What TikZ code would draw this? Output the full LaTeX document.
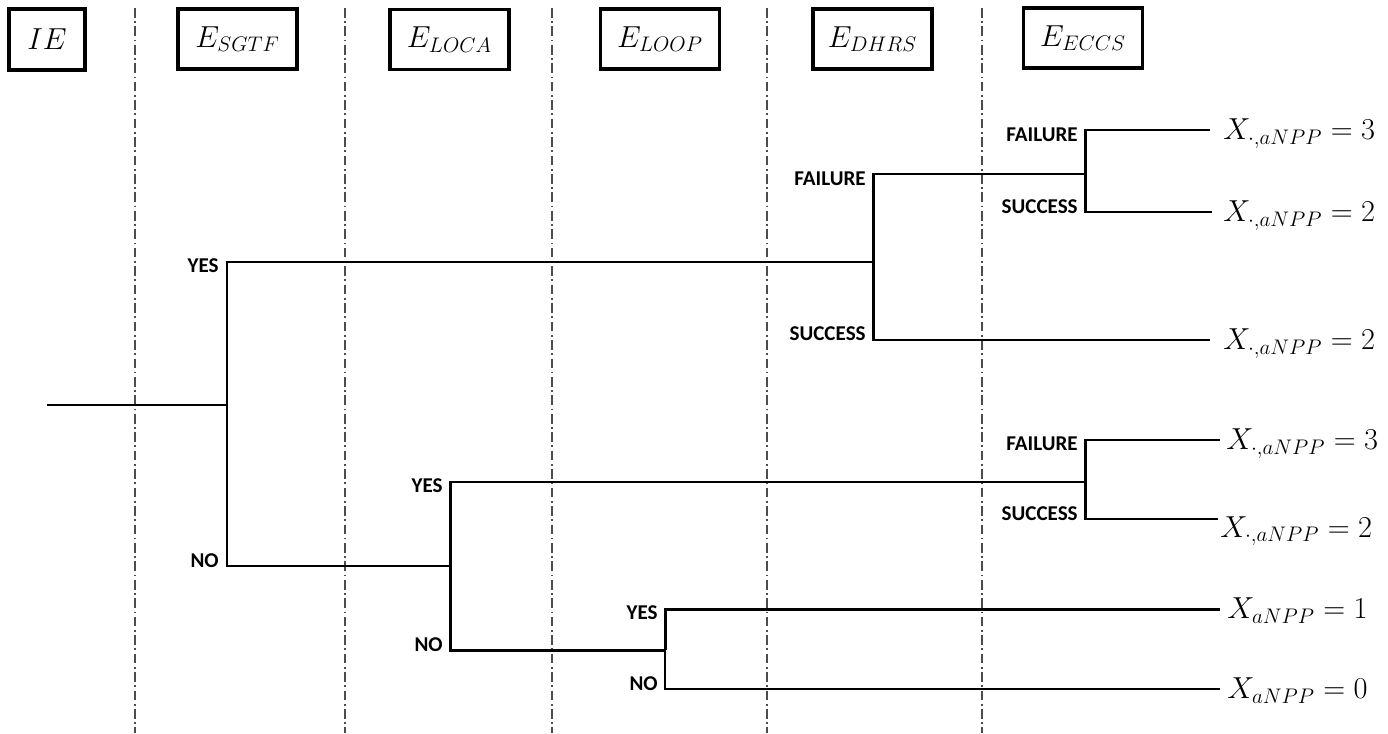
\documentclass[tikz,border=0pt]{standalone}
\usepackage{fontspec}
\newfontfamily\lblfont{Carlito}
\begin{document}
\begin{tikzpicture}[x=0.02cm,y=-0.02cm,
  hdr/.style={draw, line width=1.9pt, minimum width=2.38cm, minimum height=1.2cm, inner sep=0pt, font=\fontsize{16.5}{18}\selectfont},
  sep/.style={draw=black!70, line width=1.3pt, dash pattern=on 5.5pt off 2pt on 1pt off 2pt},
  tree/.style={line width=1.7pt},
  thin/.style={line width=1.2pt},
  lbl/.style={inner sep=0pt, font=\lblfont\bfseries\fontsize{12}{14}\selectfont},
  outc/.style={anchor=base west, inner sep=0pt, font=\fontsize{16.5}{18}\selectfont}]
\useasboundingbox (0,0) rectangle (1388,733);
% header boxes
\node[hdr, minimum width=1.52cm, minimum height=1.22cm] (ie) at (47,39.5) {$IE$};
\node[hdr] (sgtf) at (237.5,39) {$E_{SGTF}$};
\node[hdr] (loca) at (449.5,39.5) {$E_{LOCA}$};
\node[hdr] (loop) at (660,39) {$E_{LOOP}$};
\node[hdr] (dhrs) at (872.5,39) {$E_{DHRS}$};
\node[hdr] (eccs) at (1083,38) {$E_{ECCS}$};
% separators
\foreach \i/\x in {1/135,2/345,3/552,4/767,5/982}{
  \coordinate (st\i) at (\x,8);
  \coordinate (sb\i) at (\x,733);
  \draw[sep] (st\i) -- (sb\i);
}
% branch points
\coordinate (root) at (47,405);
\coordinate (n1) at (227,405);
\coordinate (n2) at (873,262);
\coordinate (n3) at (1085,174);
\coordinate (n4) at (450,566);
\coordinate (n5) at (1085,482);
\coordinate (n6) at (665,650);
% line ends
\coordinate (e1) at (1210,130);
\coordinate (e2) at (1212,212);
\coordinate (e3) at (1210,340);
\coordinate (e4) at (1220,440);
\coordinate (e5) at (1218,519);
\coordinate (e6) at (1220,609);
\coordinate (e7) at (1220,689);
% outcomes
\node[outc] (o1) at (1223,139.5) {$X_{\cdot,aNPP} = 3$};
\node[outc] (o2) at (1223,221.5) {$X_{\cdot,aNPP} = 2$};
\node[outc] (o3) at (1223,349.5) {$X_{\cdot,aNPP} = 2$};
\node[outc] (o4) at (1226,449.5) {$X_{\cdot,aNPP} = 3$};
\node[outc] (o5) at (1220,537) {$X_{\cdot,aNPP} = 2$};
\node[outc] (o6) at (1227,618.5) {$X_{aNPP} = 1$};
\node[outc] (o7) at (1227,698.5) {$X_{aNPP} = 0$};
% tree
\draw[tree] (root) -- (n1);
\draw[tree] (n1) |- (n2);
\draw[tree] (n1) |- (n4);
\draw[tree] (n2) |- (n3);
\draw[tree] (n2) |- (e3);
\draw[tree] (n3) |- (e1);
\draw[tree] (n3) |- (e2);
\draw[tree] (n4) |- (n5);
\draw[tree] (n4) |- (n6);
\draw[tree] (n5) |- (e4);
\draw[tree] (n5) |- (e5);
\draw[tree] (n6) |- (e6);
\draw[thin] (n6) |- (e7);
% branch labels
\node[lbl, anchor=east] (l1) at (219,266) {YES};
\node[lbl, anchor=east] (l2) at (219,561) {NO};
\node[lbl, anchor=east] (l3) at (866,179) {FAILURE};
\node[lbl, anchor=east] (l4) at (866,334) {SUCCESS};
\node[lbl, anchor=east] (l5) at (1078,135) {FAILURE};
\node[lbl, anchor=east] (l6) at (1078,207) {SUCCESS};
\node[lbl, anchor=east] (l7) at (443,486) {YES};
\node[lbl, anchor=east] (l8) at (443,645) {NO};
\node[lbl, anchor=east] (l9) at (1078,444) {FAILURE};
\node[lbl, anchor=east] (l10) at (1078,514) {SUCCESS};
\node[lbl, anchor=east] (l11) at (658,613) {YES};
\node[lbl, anchor=east] (l12) at (658,684) {NO};
\end{tikzpicture}
\end{document}
